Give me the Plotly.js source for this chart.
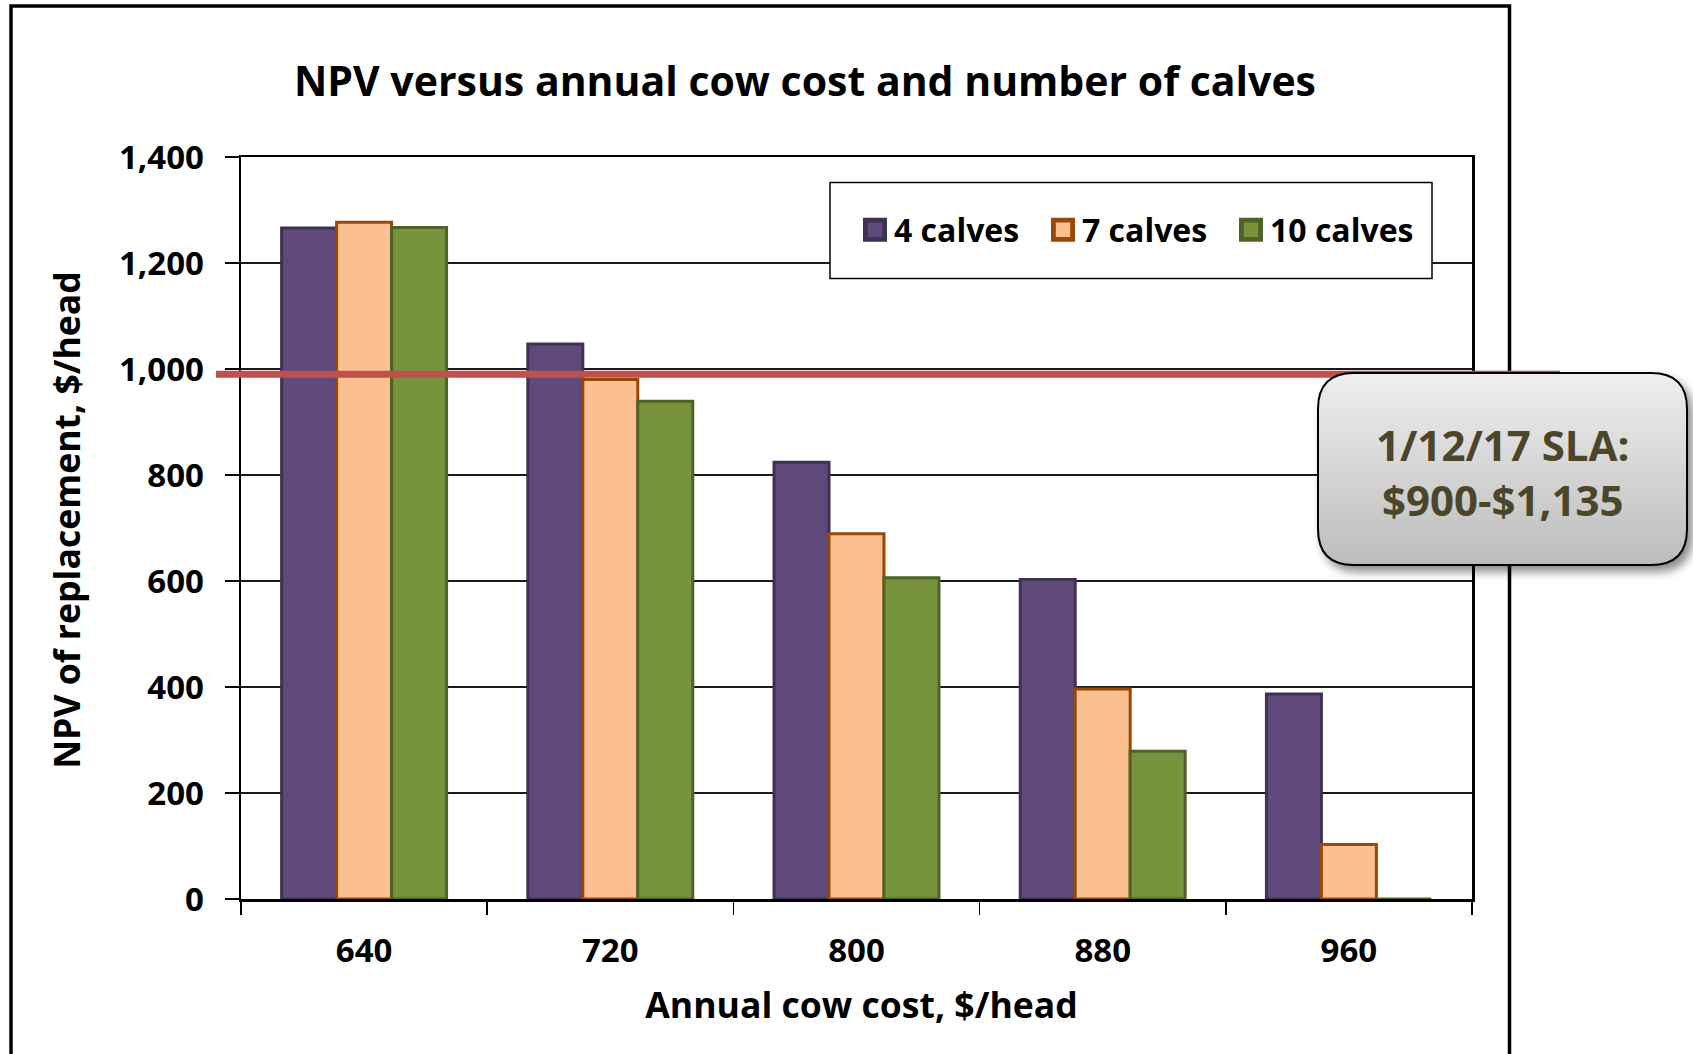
<!DOCTYPE html>
<html>
<head>
<meta charset="utf-8">
<script src="https://cdn.plot.ly/plotly-3.0.1.min.js"></script>
<style>
  html, body { margin: 0; padding: 0; background: #ffffff; }
  #chart { width: 1693px; height: 1054px; }
</style>
</head>
<body>
<div id="chart"></div>
<script>
// ---- data ----
const costCategories = ['640', '720', '800', '880', '960'];
const calves4 = [1266, 1047, 824, 603, 387];
const calves7 = [1277, 980, 689, 396, 103];
const calves10 = [1267, 939, 606, 279, 0];
const seriesNames = ['4 calves', '7 calves', '10 calves'];
const slaLevel = 990;
const calloutText = '1/12/17 SLA:<br>$900-$1,135';
const titleText = 'NPV versus annual cow cost and number of calves';
const xTitleText = 'Annual cow cost, $/head';
const yTitleText = 'NPV of replacement, $/head';

// ---- layout geometry (pixels) ----
const W = 1693, H = 1054;
const L = 241, R = 1472, T = 157, B = 899;
const PW = R - L, PH = B - T;
const px = x => (x - L) / PW;
const py = y => (B - y) / PH;

const FONT = '"Open Sans", "Noto Sans", sans-serif';

const fills = ['#604A7B', '#FAC090', '#77933C'];
const edges = ['#3F3151', '#984807', '#4F6228'];
const values = [calves4, calves7, calves10];

const traces = values.map((v, i) => ({
  type: 'bar',
  name: seriesNames[i],
  x: costCategories,
  y: v,
  marker: { color: fills[i], line: { color: edges[i], width: 3 } }
}));

// rounded rectangle for the callout (pixel box -> paper)
function roundRect(x0p, y0p, x1p, y1p, r) {
  const x0 = px(x0p), x1 = px(x1p), yT = py(y0p), yB = py(y1p);
  const rx = r / PW, ry = r / PH;
  return `M${x0 + rx},${yT} L${x1 - rx},${yT} Q${x1},${yT} ${x1},${yT - ry} ` +
         `L${x1},${yB + ry} Q${x1},${yB} ${x1 - rx},${yB} ` +
         `L${x0 + rx},${yB} Q${x0},${yB} ${x0},${yB + ry} ` +
         `L${x0},${yT - ry} Q${x0},${yT} ${x0 + rx},${yT} Z`;
}

const layout = {
  width: W, height: H,
  margin: { l: L, r: W - R, t: T, b: H - B, pad: 0 },
  paper_bgcolor: '#ffffff',
  plot_bgcolor: '#ffffff',
  font: { family: FONT, color: '#000000', size: 33, weight: 700 },
  title: {
    text: titleText,
    font: { family: FONT, size: 41, weight: 700, color: '#000000' },
    x: 805 / W, xanchor: 'center', xref: 'container',
    y: 1 - 82 / H, yanchor: 'middle', yref: 'container'
  },
  barmode: 'group',
  bargap: 0.33,
  bargroupgap: 0,
  showlegend: true,
  legend: {
    orientation: 'h',
    x: px(854), xanchor: 'left',
    y: py(230), yanchor: 'middle',
    bgcolor: 'rgba(0,0,0,0)',
    borderwidth: 0,
    font: { family: FONT, size: 32, weight: 700, color: '#000000' },
    entrywidth: 143, entrywidthmode: 'pixels',
    traceorder: 'normal'
  },
  xaxis: {
    type: 'category',
    showline: true, linecolor: '#000000', linewidth: 2.5, mirror: true,
    ticks: 'outside', tickson: 'boundaries', ticklen: 13, tickwidth: 1.5, tickcolor: '#000000',
    ticklabelstandoff: 21,
    tickfont: { family: FONT, size: 33, weight: 700, color: '#000000' },
    showgrid: false, zeroline: false,
    title: { text: xTitleText, standoff: 22, font: { family: FONT, size: 35.6, weight: 700, color: '#000000' } }
  },
  yaxis: {
    range: [0, 1400], dtick: 200, tick0: 0,
    tickformat: ',d',
    showline: true, linecolor: '#000000', linewidth: 2.5, mirror: true,
    ticks: 'outside', ticklen: 14, tickwidth: 1.5, tickcolor: '#000000',
    ticklabelstandoff: 14,
    tickfont: { family: FONT, size: 33, weight: 700, color: '#000000' },
    showgrid: true, gridcolor: '#1a1a1a', gridwidth: 1.4,
    zeroline: false,
    title: { text: yTitleText, standoff: 28, font: { family: FONT, size: 35.6, weight: 700, color: '#000000' } }
  },
  shapes: [
    // outer chart border
    { type: 'rect', xref: 'paper', yref: 'paper', layer: 'above',
      x0: px(11), x1: px(1509.5), y0: py(1075), y1: py(6),
      line: { color: '#000000', width: 3.5 }, fillcolor: 'rgba(0,0,0,0)' },
    // legend frame
    { type: 'rect', xref: 'paper', yref: 'paper', layer: 'above',
      x0: px(830), x1: px(1432), y0: py(278.5), y1: py(182.5),
      line: { color: '#000000', width: 1.5 }, fillcolor: '#ffffff' },
    // SLA reference line
    { type: 'line', xref: 'paper', yref: 'y', layer: 'above',
      x0: px(216), x1: px(1560), y0: slaLevel, y1: slaLevel,
      line: { color: '#C0504D', width: 7 } },
    // callout box
    { type: 'path', xref: 'paper', yref: 'paper', layer: 'above',
      path: roundRect(1318, 373, 1687, 565, 36),
      line: { color: '#000000', width: 2 }, fillcolor: '#d4d4d4' }
  ],
  annotations: [
    { xref: 'paper', yref: 'paper', x: px(1502.5), y: py(472),
      xanchor: 'center', yanchor: 'middle', showarrow: false, align: 'center',
      text: calloutText,
      font: { family: FONT, size: 42, weight: 700, color: '#4B4529' } }
  ],
  hovermode: false
};

Plotly.newPlot('chart', traces, layout, { staticPlot: true, displayModeBar: false }).then(gd => {
  const ns = 'http://www.w3.org/2000/svg';
  const svg = gd.querySelector('svg.main-svg');
  let defs = svg.querySelector('defs');
  if (!defs) { defs = document.createElementNS(ns, 'defs'); svg.insertBefore(defs, svg.firstChild); }
  const lg = document.createElementNS(ns, 'linearGradient');
  lg.setAttribute('id', 'calloutGrad');
  lg.setAttribute('x1', '0'); lg.setAttribute('y1', '0');
  lg.setAttribute('x2', '0'); lg.setAttribute('y2', '1');
  [['0', '#efefef'], ['1', '#bcbcbc']].forEach(([o, c]) => {
    const s = document.createElementNS(ns, 'stop');
    s.setAttribute('offset', o); s.setAttribute('stop-color', c);
    lg.appendChild(s);
  });
  defs.appendChild(lg);
  const callout = gd.querySelector('.layer-above .shapelayer path[data-index="3"]');
  if (callout) {
    callout.style.fill = 'url(#calloutGrad)';
    callout.style.fillOpacity = '1';
    callout.style.filter = 'drop-shadow(5px 6px 5px rgba(0,0,0,0.45))';
  }
  // small nudges of the axis titles to match the original's off-centre placement
  const xt = gd.querySelector('.g-xtitle text');
  if (xt) xt.setAttribute('transform', 'translate(5,0) ' + (xt.getAttribute('transform') || ''));
  const yt = gd.querySelector('.g-ytitle text');
  if (yt) yt.setAttribute('transform', 'translate(0,-8) ' + (yt.getAttribute('transform') || ''));
  // legend: unclip, enlarge symbols and place them just before their labels
  gd.querySelectorAll('.legend [clip-path]').forEach(el => el.removeAttribute('clip-path'));
  gd.querySelectorAll('.legend .traces').forEach(item => {
    const text = item.querySelector('.legendtext');
    const paths = item.querySelectorAll('.legendpoints path');
    if (!text || !paths.length) return;
    const tx = text.getBoundingClientRect().left;
    paths.forEach(p => {
      if (!p.getAttribute('d')) return;
      p.setAttribute('transform', 'scale(1.6)');
      const r = p.getBoundingClientRect();
      const cx = r.left + r.width / 2;
      const dx = (tx - 19) - cx;
      p.setAttribute('transform', `translate(${dx},0) scale(1.6)`);
    });
  });
});
</script>
</body>
</html>
